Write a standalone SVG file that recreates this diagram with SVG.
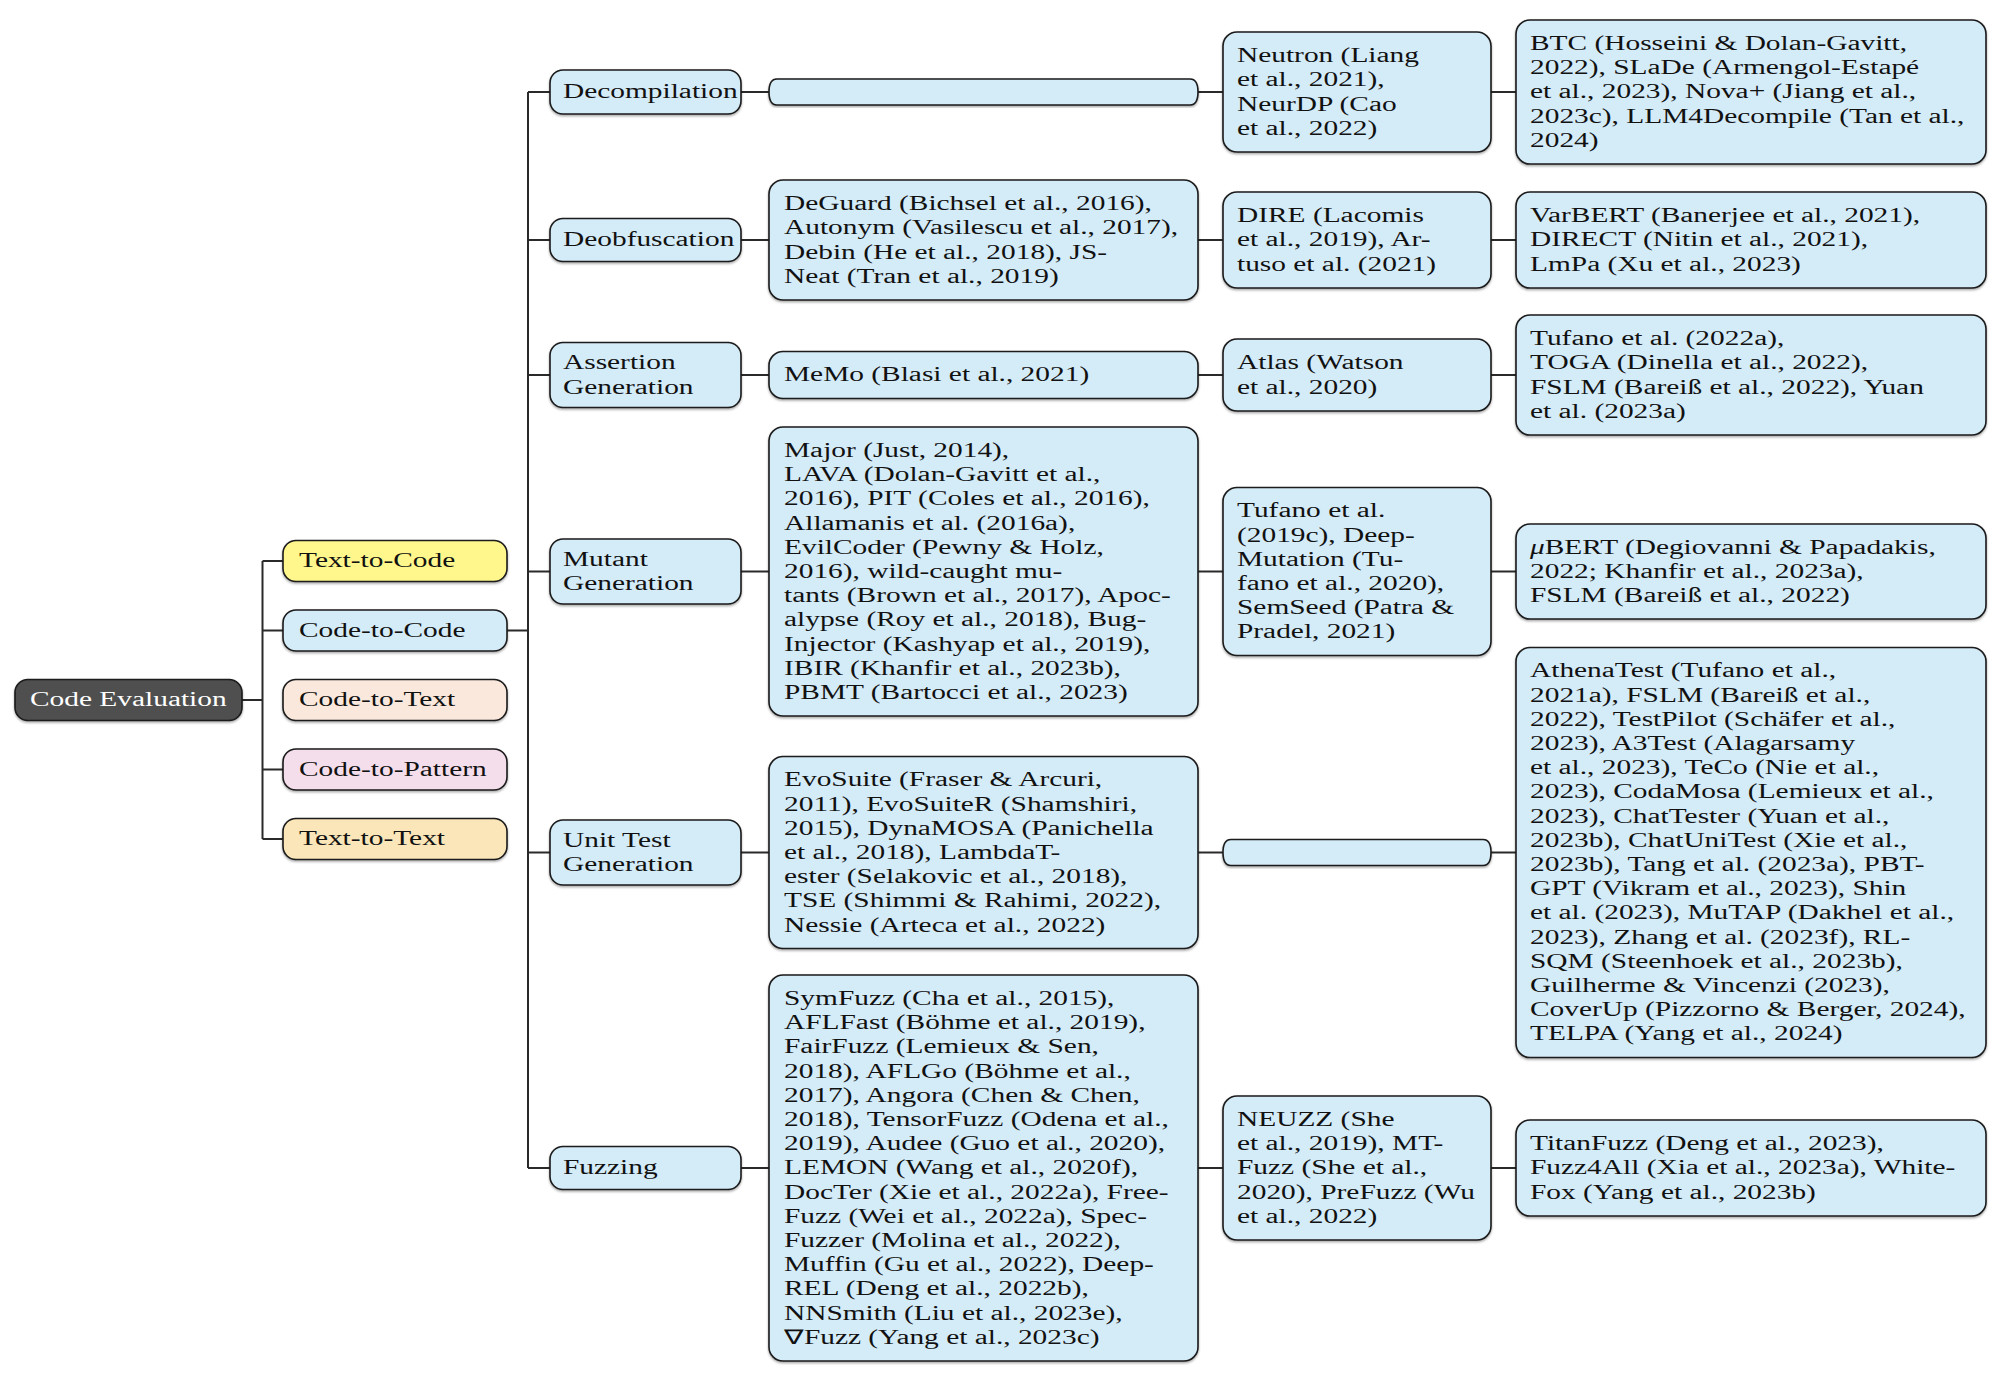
<svg xmlns="http://www.w3.org/2000/svg" width="2000" height="1380" viewBox="0 0 2000 1380">
<defs>
<filter id="sh" x="-5%" y="-5%" width="110%" height="115%"><feDropShadow dx="0" dy="1.5" stdDeviation="0.8" flood-color="#000" flood-opacity="0.35"/></filter>
</defs>
<style>
.b{fill:#D4EBF8;stroke:#1a1a1a;stroke-width:1.6;filter:url(#sh)}
.root{fill:#4F4F4F;stroke:#1a1a1a;stroke-width:1.6;filter:url(#sh)}
.y{fill:#FFF78C;stroke:#1a1a1a;stroke-width:1.6;filter:url(#sh)}
.pe{fill:#FAE8DC;stroke:#1a1a1a;stroke-width:1.6;filter:url(#sh)}
.pk{fill:#F5DEEB;stroke:#1a1a1a;stroke-width:1.6;filter:url(#sh)}
.w{fill:#FAE6B9;stroke:#1a1a1a;stroke-width:1.6;filter:url(#sh)}
.t{font-family:"Liberation Serif","Times New Roman",serif;font-size:20px;fill:#111}
.tw{font-family:"Liberation Serif","Times New Roman",serif;font-size:20px;fill:#fff}
.c{fill:none;stroke:#2a2a2a;stroke-width:2}
</style>
<rect width="2000" height="1380" fill="#fff"/>
<g id="connectors">
<path class="c" d="M242,700 H262.5 M262.5,561 V839 M262.5,561 H283 M262.5,630.5 H283 M262.5,769.5 H283 M262.5,839 H283"/>
<path class="c" d="M507,630.5 H528 M528,92 V1168 M528,92 H550 M528,240 H550 M528,375 H550 M528,571.5 H550 M528,852.5 H550 M528,1168 H550"/>
<path class="c" d="M741,92 H769 M741,240 H769 M741,375 H769 M741,571.5 H769 M741,852.5 H769 M741,1168 H769"/>
<path class="c" d="M1198,92 H1223 M1198,240 H1223 M1198,375 H1223 M1198,571.5 H1223 M1198,852.5 H1223 M1198,1168 H1223"/>
<path class="c" d="M1491,92 H1516 M1491,240 H1516 M1491,375 H1516 M1491,571.5 H1516 M1491,852.5 H1516 M1491,1168 H1516"/>
</g>
<g id="root"><rect class="root" x="15" y="679.5" width="227" height="41" rx="13"/><text class="tw" transform="translate(30 0) scale(1.47 1)"><tspan x="0" y="706.5">Code Evaluation</tspan></text></g>
<g id="text-to-code"><rect class="y" x="283" y="540.5" width="224" height="41" rx="13"/><text class="t" transform="translate(299 0) scale(1.47 1)"><tspan x="0" y="567.5">Text-to-Code</tspan></text></g>
<g id="code-to-code"><rect class="b" x="283" y="610" width="224" height="41" rx="13"/><text class="t" transform="translate(299 0) scale(1.47 1)"><tspan x="0" y="637">Code-to-Code</tspan></text></g>
<g id="code-to-text"><rect class="pe" x="283" y="679.5" width="224" height="41" rx="13"/><text class="t" transform="translate(299 0) scale(1.47 1)"><tspan x="0" y="706.5">Code-to-Text</tspan></text></g>
<g id="code-to-pattern"><rect class="pk" x="283" y="749" width="224" height="41" rx="13"/><text class="t" transform="translate(299 0) scale(1.47 1)"><tspan x="0" y="776">Code-to-Pattern</tspan></text></g>
<g id="text-to-text"><rect class="w" x="283" y="818.5" width="224" height="41" rx="13"/><text class="t" transform="translate(299 0) scale(1.47 1)"><tspan x="0" y="845.5">Text-to-Text</tspan></text></g>

<g id="decompilation"><rect class="b" x="550" y="70" width="191" height="44" rx="13"/><text class="t" transform="translate(563 0) scale(1.47 1)"><tspan x="0" y="98.5">Decompilation</tspan></text></g>
<g id="decomp-l3"><path class="b" d="M777,79 H1190 Q1198,79 1198,92 Q1198,105 1190,105 H777 Q769,105 769,92 Q769,79 777,79 Z"/></g>
<g id="neutron"><rect class="b" x="1223" y="32" width="268" height="120" rx="14"/><text class="t" transform="translate(1237 0) scale(1.47 1)"><tspan x="0" y="62.2">Neutron (Liang</tspan><tspan x="0" y="86.4">et al., 2021),</tspan><tspan x="0" y="110.6">NeurDP (Cao</tspan><tspan x="0" y="134.8">et al., 2022)</tspan></text></g>
<g id="btc"><rect class="b" x="1516" y="20" width="470" height="144" rx="14"/><text class="t" transform="translate(1530 0) scale(1.47 1)"><tspan x="0" y="50.1">BTC (Hosseini &amp; Dolan-Gavitt,</tspan><tspan x="0" y="74.3">2022), SLaDe (Armengol-Estapé</tspan><tspan x="0" y="98.5">et al., 2023), Nova+ (Jiang et al.,</tspan><tspan x="0" y="122.7">2023c), LLM4Decompile (Tan et al.,</tspan><tspan x="0" y="146.9">2024)</tspan></text></g>

<g id="deobfuscation"><rect class="b" x="550" y="218.5" width="191" height="43" rx="13"/><text class="t" transform="translate(563 0) scale(1.47 1)"><tspan x="0" y="246.5">Deobfuscation</tspan></text></g>
<g id="deguard"><rect class="b" x="769" y="180" width="429" height="120" rx="14"/><text class="t" transform="translate(784 0) scale(1.47 1)"><tspan x="0" y="210.2">DeGuard (Bichsel et al., 2016),</tspan><tspan x="0" y="234.4">Autonym (Vasilescu et al., 2017),</tspan><tspan x="0" y="258.6">Debin (He et al., 2018), JS-</tspan><tspan x="0" y="282.8">Neat (Tran et al., 2019)</tspan></text></g>
<g id="dire"><rect class="b" x="1223" y="192" width="268" height="96" rx="14"/><text class="t" transform="translate(1237 0) scale(1.47 1)"><tspan x="0" y="222.3">DIRE (Lacomis</tspan><tspan x="0" y="246.5">et al., 2019), Ar-</tspan><tspan x="0" y="270.7">tuso et al. (2021)</tspan></text></g>
<g id="varbert"><rect class="b" x="1516" y="192" width="470" height="96" rx="14"/><text class="t" transform="translate(1530 0) scale(1.47 1)"><tspan x="0" y="222.3">VarBERT (Banerjee et al., 2021),</tspan><tspan x="0" y="246.5">DIRECT (Nitin et al., 2021),</tspan><tspan x="0" y="270.7">LmPa (Xu et al., 2023)</tspan></text></g>

<g id="assertion"><rect class="b" x="550" y="342.5" width="191" height="65" rx="13"/><text class="t" transform="translate(563 0) scale(1.47 1)"><tspan x="0" y="369.4">Assertion</tspan><tspan x="0" y="393.6">Generation</tspan></text></g>
<g id="memo"><rect class="b" x="769" y="351.5" width="429" height="47" rx="14"/><text class="t" transform="translate(784 0) scale(1.47 1)"><tspan x="0" y="381.5">MeMo (Blasi et al., 2021)</tspan></text></g>
<g id="atlas"><rect class="b" x="1223" y="339" width="268" height="72" rx="14"/><text class="t" transform="translate(1237 0) scale(1.47 1)"><tspan x="0" y="369.4">Atlas (Watson</tspan><tspan x="0" y="393.6">et al., 2020)</tspan></text></g>
<g id="tufano2022"><rect class="b" x="1516" y="315" width="470" height="120" rx="14"/><text class="t" transform="translate(1530 0) scale(1.47 1)"><tspan x="0" y="345.2">Tufano et al. (2022a),</tspan><tspan x="0" y="369.4">TOGA (Dinella et al., 2022),</tspan><tspan x="0" y="393.6">FSLM (Bareiß et al., 2022), Yuan</tspan><tspan x="0" y="417.8">et al. (2023a)</tspan></text></g>

<g id="mutant"><rect class="b" x="550" y="539" width="191" height="65" rx="13"/><text class="t" transform="translate(563 0) scale(1.47 1)"><tspan x="0" y="565.9">Mutant</tspan><tspan x="0" y="590.1">Generation</tspan></text></g>
<g id="major"><rect class="b" x="769" y="427" width="429" height="289" rx="14"/><text class="t" transform="translate(784 0) scale(1.47 1)"><tspan x="0" y="457">Major (Just, 2014),</tspan><tspan x="0" y="481.2">LAVA (Dolan-Gavitt et al.,</tspan><tspan x="0" y="505.4">2016), PIT (Coles et al., 2016),</tspan><tspan x="0" y="529.6">Allamanis et al. (2016a),</tspan><tspan x="0" y="553.8">EvilCoder (Pewny &amp; Holz,</tspan><tspan x="0" y="578">2016), wild-caught mu-</tspan><tspan x="0" y="602.2">tants (Brown et al., 2017), Apoc-</tspan><tspan x="0" y="626.4">alypse (Roy et al., 2018), Bug-</tspan><tspan x="0" y="650.6">Injector (Kashyap et al., 2019),</tspan><tspan x="0" y="674.8">IBIR (Khanfir et al., 2023b),</tspan><tspan x="0" y="699">PBMT (Bartocci et al., 2023)</tspan></text></g>
<g id="tufano2019"><rect class="b" x="1223" y="487.5" width="268" height="168" rx="14"/><text class="t" transform="translate(1237 0) scale(1.47 1)"><tspan x="0" y="517.5">Tufano et al.</tspan><tspan x="0" y="541.7">(2019c), Deep-</tspan><tspan x="0" y="565.9">Mutation (Tu-</tspan><tspan x="0" y="590.1">fano et al., 2020),</tspan><tspan x="0" y="614.3">SemSeed (Patra &amp;</tspan><tspan x="0" y="638.5">Pradel, 2021)</tspan></text></g>
<g id="mubert"><rect class="b" x="1516" y="524" width="470" height="95" rx="14"/><text class="t" transform="translate(1530 0) scale(1.47 1)"><tspan x="0" y="553.8"><tspan font-style="italic">μ</tspan>BERT (Degiovanni &amp; Papadakis,</tspan><tspan x="0" y="578">2022; Khanfir et al., 2023a),</tspan><tspan x="0" y="602.2">FSLM (Bareiß et al., 2022)</tspan></text></g>

<g id="unittest"><rect class="b" x="550" y="820" width="191" height="65" rx="13"/><text class="t" transform="translate(563 0) scale(1.47 1)"><tspan x="0" y="846.9">Unit Test</tspan><tspan x="0" y="871.1">Generation</tspan></text></g>
<g id="evosuite"><rect class="b" x="769" y="756.5" width="429" height="192" rx="14"/><text class="t" transform="translate(784 0) scale(1.47 1)"><tspan x="0" y="786.4">EvoSuite (Fraser &amp; Arcuri,</tspan><tspan x="0" y="810.6">2011), EvoSuiteR (Shamshiri,</tspan><tspan x="0" y="834.8">2015), DynaMOSA (Panichella</tspan><tspan x="0" y="859">et al., 2018), LambdaT-</tspan><tspan x="0" y="883.2">ester (Selakovic et al., 2018),</tspan><tspan x="0" y="907.4">TSE (Shimmi &amp; Rahimi, 2022),</tspan><tspan x="0" y="931.6">Nessie (Arteca et al., 2022)</tspan></text></g>
<g id="unittest-l4"><path class="b" d="M1231,839.5 H1483 Q1491,839.5 1491,852.5 Q1491,865.5 1483,865.5 H1231 Q1223,865.5 1223,852.5 Q1223,839.5 1231,839.5 Z"/></g>
<g id="athenatest"><rect class="b" x="1516" y="647.5" width="470" height="410" rx="14"/><text class="t" transform="translate(1530 0) scale(1.47 1)"><tspan x="0" y="677.5">AthenaTest (Tufano et al.,</tspan><tspan x="0" y="701.7">2021a), FSLM (Bareiß et al.,</tspan><tspan x="0" y="725.9">2022), TestPilot (Schäfer et al.,</tspan><tspan x="0" y="750.1">2023), A3Test (Alagarsamy</tspan><tspan x="0" y="774.3">et al., 2023), TeCo (Nie et al.,</tspan><tspan x="0" y="798.5">2023), CodaMosa (Lemieux et al.,</tspan><tspan x="0" y="822.7">2023), ChatTester (Yuan et al.,</tspan><tspan x="0" y="846.9">2023b), ChatUniTest (Xie et al.,</tspan><tspan x="0" y="871.1">2023b), Tang et al. (2023a), PBT-</tspan><tspan x="0" y="895.3">GPT (Vikram et al., 2023), Shin</tspan><tspan x="0" y="919.5">et al. (2023), MuTAP (Dakhel et al.,</tspan><tspan x="0" y="943.7">2023), Zhang et al. (2023f), RL-</tspan><tspan x="0" y="967.9">SQM (Steenhoek et al., 2023b),</tspan><tspan x="0" y="992.1">Guilherme &amp; Vincenzi (2023),</tspan><tspan x="0" y="1016.3">CoverUp (Pizzorno &amp; Berger, 2024),</tspan><tspan x="0" y="1040.5">TELPA (Yang et al., 2024)</tspan></text></g>

<g id="fuzzing"><rect class="b" x="550" y="1146.5" width="191" height="43" rx="13"/><text class="t" transform="translate(563 0) scale(1.47 1)"><tspan x="0" y="1174.5">Fuzzing</tspan></text></g>
<g id="symfuzz"><rect class="b" x="769" y="975" width="429" height="386" rx="14"/><text class="t" transform="translate(784 0) scale(1.47 1)"><tspan x="0" y="1005.1">SymFuzz (Cha et al., 2015),</tspan><tspan x="0" y="1029.3">AFLFast (Böhme et al., 2019),</tspan><tspan x="0" y="1053.5">FairFuzz (Lemieux &amp; Sen,</tspan><tspan x="0" y="1077.7">2018), AFLGo (Böhme et al.,</tspan><tspan x="0" y="1101.9">2017), Angora (Chen &amp; Chen,</tspan><tspan x="0" y="1126.1">2018), TensorFuzz (Odena et al.,</tspan><tspan x="0" y="1150.3">2019), Audee (Guo et al., 2020),</tspan><tspan x="0" y="1174.5">LEMON (Wang et al., 2020f),</tspan><tspan x="0" y="1198.7">DocTer (Xie et al., 2022a), Free-</tspan><tspan x="0" y="1222.9">Fuzz (Wei et al., 2022a), Spec-</tspan><tspan x="0" y="1247.1">Fuzzer (Molina et al., 2022),</tspan><tspan x="0" y="1271.3">Muffin (Gu et al., 2022), Deep-</tspan><tspan x="0" y="1295.5">REL (Deng et al., 2022b),</tspan><tspan x="0" y="1319.7">NNSmith (Liu et al., 2023e),</tspan><tspan x="0" y="1343.9">∇Fuzz (Yang et al., 2023c)</tspan></text></g>
<g id="neuzz"><rect class="b" x="1223" y="1096" width="268" height="144" rx="14"/><text class="t" transform="translate(1237 0) scale(1.47 1)"><tspan x="0" y="1126.1">NEUZZ (She</tspan><tspan x="0" y="1150.3">et al., 2019), MT-</tspan><tspan x="0" y="1174.5">Fuzz (She et al.,</tspan><tspan x="0" y="1198.7">2020), PreFuzz (Wu</tspan><tspan x="0" y="1222.9">et al., 2022)</tspan></text></g>
<g id="titanfuzz"><rect class="b" x="1516" y="1120" width="470" height="96" rx="14"/><text class="t" transform="translate(1530 0) scale(1.47 1)"><tspan x="0" y="1150.3">TitanFuzz (Deng et al., 2023),</tspan><tspan x="0" y="1174.5">Fuzz4All (Xia et al., 2023a), White-</tspan><tspan x="0" y="1198.7">Fox (Yang et al., 2023b)</tspan></text></g>
</svg>
